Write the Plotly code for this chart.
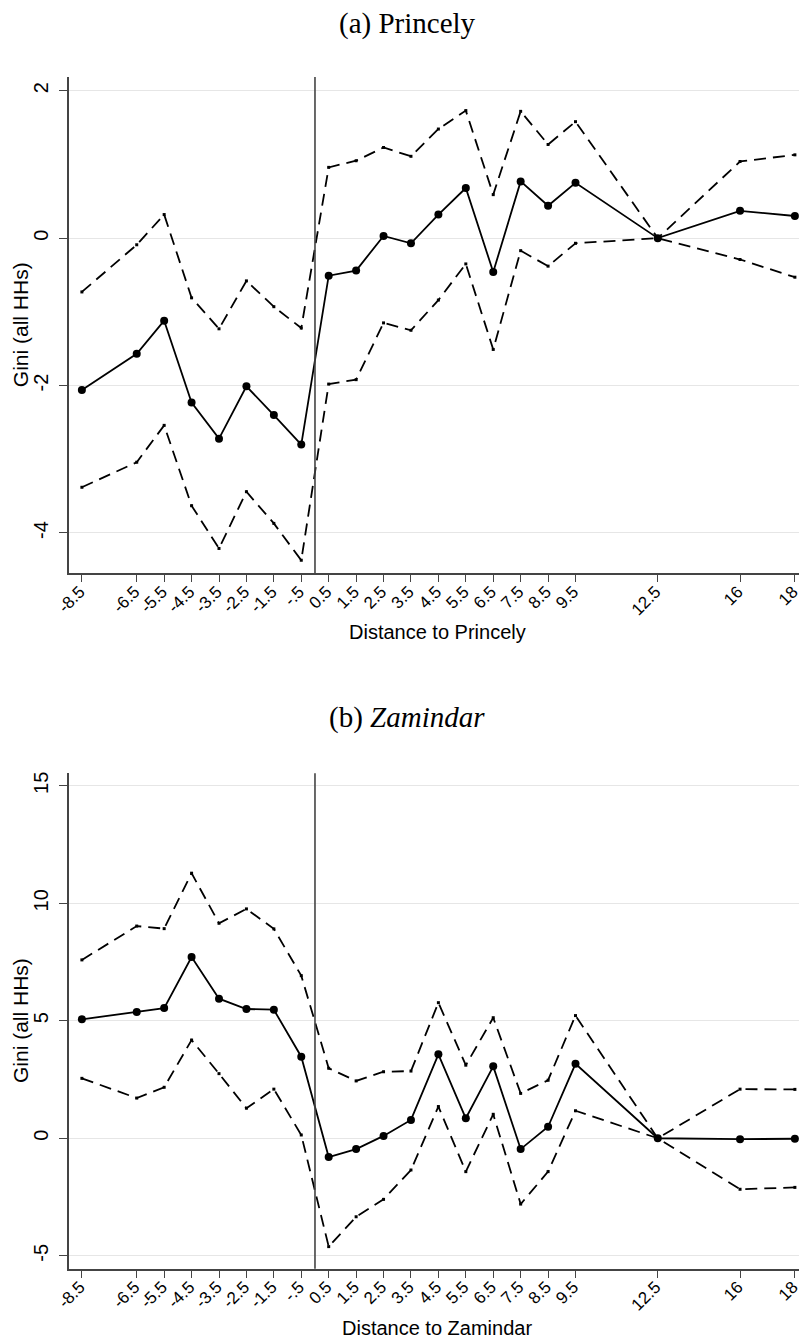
import plotly.graph_objects as go

# Bin positions along the distance axis and the labels printed under them
x_pos = [-8.5, -6.5, -5.5, -4.5, -3.5, -2.5, -1.5, -0.5, 0.5, 1.5, 2.5, 3.5,
         4.5, 5.5, 6.5, 7.5, 8.5, 9.5, 12.5, 15.5, 17.5]
x_labels = ["-8.5", "-6.5", "-5.5", "-4.5", "-3.5", "-2.5", "-1.5", "-.5",
            "0.5", "1.5", "2.5", "3.5", "4.5", "5.5", "6.5", "7.5", "8.5",
            "9.5", "12.5", "16", "18"]

# (a) Princely: point estimates and 95% bounds
princely_est = [-2.06, -1.57, -1.12, -2.23, -2.72, -2.01, -2.40, -2.80,
                -0.51, -0.44, 0.03, -0.07, 0.32, 0.68, -0.46, 0.77, 0.44,
                0.75, 0.00, 0.37, 0.30]
princely_hi = [-0.73, -0.09, 0.32, -0.81, -1.23, -0.58, -0.93, -1.22,
               0.96, 1.05, 1.23, 1.11, 1.48, 1.73, 0.59, 1.72, 1.27,
               1.58, 0.00, 1.04, 1.13]
princely_lo = [-3.38, -3.04, -2.54, -3.63, -4.21, -3.44, -3.87, -4.37,
               -1.98, -1.92, -1.15, -1.25, -0.84, -0.35, -1.51, -0.17, -0.38,
               -0.07, 0.00, -0.29, -0.53]

# (b) Zamindar: point estimates and 95% bounds
zamindar_est = [5.06, 5.37, 5.54, 7.71, 5.94, 5.50, 5.47, 3.47,
                -0.80, -0.46, 0.10, 0.78, 3.57, 0.85, 3.06, -0.46, 0.49,
                3.17, 0.00, -0.04, -0.02]
zamindar_hi = [7.59, 9.03, 8.92, 11.28, 9.15, 9.76, 8.91, 6.92,
               2.98, 2.44, 2.83, 2.86, 5.77, 3.11, 5.13, 1.91, 2.47,
               5.22, 0.00, 2.09, 2.08]
zamindar_lo = [2.55, 1.71, 2.17, 4.18, 2.75, 1.28, 2.09, 0.14,
               -4.61, -3.34, -2.60, -1.35, 1.35, -1.42, 1.02, -2.80, -1.42,
               1.17, 0.00, -2.17, -2.09]

princely_yticks = [-4, -2, 0, 2]
princely_ylabels = ["-4", "-2", "0", "2"]
zamindar_yticks = [-5, 0, 5, 10, 15]
zamindar_ylabels = ["-5", "0", "5", "10", "15"]

W, H = 799, 1340
LEFT = 69
SANS = "Liberation Sans, Arial, Helvetica, sans-serif"
SERIF = "Liberation Serif, Times New Roman, serif"
AXIS_COL = "#444444"


def py(px):
    """Convert a pixel row (from the top) into paper coordinates."""
    return (H - px) / H


def pxx(px):
    return (px - LEFT) / (W - LEFT)


fig = go.Figure()

panels = [
    ("x", "y", princely_est, princely_hi, princely_lo),
    ("x2", "y2", zamindar_est, zamindar_hi, zamindar_lo),
]
for xa, ya, est, hi, lo in panels:
    for band in (hi, lo):
        fig.add_trace(go.Scatter(
            x=x_pos, y=band, xaxis=xa, yaxis=ya, mode="lines+markers",
            line=dict(color="black", width=1.8, dash="12px,7px"),
            marker=dict(color="black", size=3, symbol="square"),
            showlegend=False, cliponaxis=False, hoverinfo="skip"))
    fig.add_trace(go.Scatter(
        x=x_pos, y=est, xaxis=xa, yaxis=ya, mode="lines+markers",
        line=dict(color="black", width=1.8),
        marker=dict(color="black", size=8),
        showlegend=False, cliponaxis=False))

xaxis_common = dict(
    range=[-8.97, 17.65], tickmode="array", tickvals=x_pos, ticktext=x_labels,
    tickangle=-45, ticks="outside", ticklen=7, tickwidth=1.3,
    tickcolor=AXIS_COL, showline=True, linecolor=AXIS_COL, linewidth=1.6,
    showgrid=False, zeroline=False, ticklabeloverflow="allow",
    automargin=False, ticklabelstandoff=-7, ticklabelshift=-2,
    tickfont=dict(family=SANS, size=17, color="black"), domain=[0, 1])

yaxis_common = dict(
    tickmode="array", tickangle=-90, ticks="outside", ticklen=8,
    tickwidth=1.3, tickcolor=AXIS_COL, showline=True, linecolor=AXIS_COL,
    linewidth=1.6, showgrid=True, gridcolor="#e6e6e6", gridwidth=1.2,
    zeroline=False, ticklabelstandoff=3, automargin=False,
    tickfont=dict(family=SANS, size=20, color="black"))

fig.update_layout(
    width=W, height=H, autosize=False,
    margin=dict(l=LEFT, r=0, t=0, b=0),
    paper_bgcolor="white", plot_bgcolor="white",
    xaxis=dict(xaxis_common, anchor="y"),
    xaxis2=dict(xaxis_common, anchor="y2"),
    yaxis=dict(yaxis_common, range=[-4.547, 2.186], tickvals=princely_yticks,
               ticktext=princely_ylabels,
               domain=[py(573.3), py(77)], anchor="x"),
    yaxis2=dict(yaxis_common, range=[-5.55, 15.53], tickvals=zamindar_yticks,
                ticktext=zamindar_ylabels,
                domain=[py(1268.7), py(773.3)], anchor="x2"),
)

# Cut-off line at distance zero
for xr, yr in (("x", "y domain"), ("x2", "y2 domain")):
    fig.add_shape(type="line", xref=xr, yref=yr, x0=0, x1=0, y0=0, y1=1,
                  line=dict(color=AXIS_COL, width=1.6), layer="above")

annotations = [
    dict(text="(a) Princely", x=pxx(407), y=py(23),
         font=dict(family=SERIF, size=29, color="black")),
    dict(text="(b) <i>Zamindar</i>", x=pxx(407), y=py(718),
         font=dict(family=SERIF, size=29, color="black")),
    dict(text="Gini (all HHs)", x=pxx(20), y=py((77 + 573.3) / 2),
         textangle=-90, font=dict(family=SANS, size=21, color="black")),
    dict(text="Gini (all HHs)", x=pxx(20), y=py((773.3 + 1268.7) / 2),
         textangle=-90, font=dict(family=SANS, size=21, color="black")),
    dict(text="Distance to Princely", x=pxx(437), y=py(632),
         font=dict(family=SANS, size=20, color="black")),
    dict(text="Distance to Zamindar", x=pxx(437), y=py(1328),
         font=dict(family=SANS, size=20, color="black")),
]
for a in annotations:
    fig.add_annotation(xref="paper", yref="paper", showarrow=False,
                       xanchor="center", yanchor="middle", **a)

fig.write_html("out.html")
